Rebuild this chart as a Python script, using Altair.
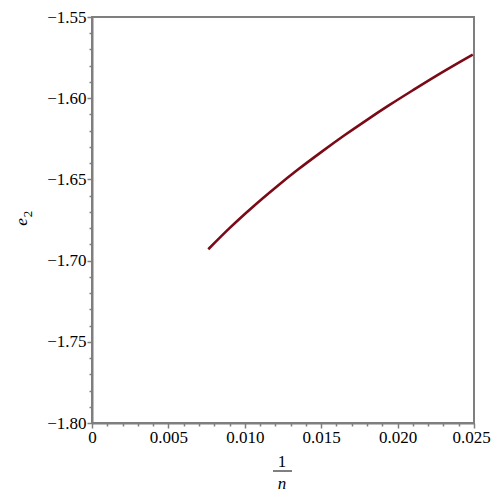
import altair as alt
import pandas as pd

# curve
inv_n = [0.00761, 0.0090, 0.0105, 0.0120, 0.0135, 0.0150, 0.0165, 0.0180, 0.0195, 0.0210, 0.0225, 0.0240, 0.02492]
e2 = [-1.6930, -1.6800, -1.6671, -1.6551, -1.6438, -1.6332, -1.6230, -1.6133, -1.6040, -1.5951, -1.5864, -1.5781, -1.5731]

x_ticks = [round(i * 0.001, 3) for i in range(0, 26)]
y_ticks = [round(-1.80 + i * 0.01, 2) for i in range(0, 26)]

df = pd.DataFrame({"x": inv_n, "y": e2})

FONT = "Liberation Serif"
GRAY = "#7f7f7f"

major_x = "abs(datum.value*200 - round(datum.value*200)) < 1e-6"
major_y = "abs(datum.value*20 - round(datum.value*20)) < 1e-6"

line = alt.Chart(df).mark_line(color="#7A0A16", strokeWidth=2.6, interpolate="monotone").encode(
    x=alt.X("x:Q", scale=alt.Scale(domain=[0, 0.025], nice=False, zero=False),
            axis=alt.Axis(values=x_ticks, title=None, grid=False, domainColor=GRAY, domainWidth=2,
                          tickColor=GRAY, tickWidth=1.5,
                          tickSize={"condition": {"test": major_x, "value": 5}, "value": 3},
                          labelExpr=f"({major_x}) ? (datum.value == 0 ? '0' : format(datum.value, '.3f')) : ''",
                          labelOffset={"condition": {"test": "datum.value > 0.0245", "value": -3}, "value": 0},
                          labelOverlap=False, labelFlush=False, labelFont=FONT, labelFontSize=17,
                          labelColor="black", labelPadding=1)),
    y=alt.Y("y:Q", scale=alt.Scale(domain=[-1.80, -1.55], nice=False, zero=False),
            axis=alt.Axis(values=y_ticks, title=None, grid=False, domainColor=GRAY, domainWidth=2,
                          tickColor=GRAY, tickWidth=1.5,
                          tickSize={"condition": {"test": major_y, "value": 5}, "value": 3},
                          labelExpr=f"({major_y}) ? format(datum.value, '.2f') : ''",
                          labelOverlap=False, labelFlush=False, labelFont=FONT, labelFontSize=17,
                          labelColor="black", labelPadding=1)),
)

one = pd.DataFrame({"t": ["1"]})
frac_num = alt.Chart(one).mark_text(text="1", font=FONT, fontSize=17, color="black").encode(
    x=alt.value(190), y=alt.value(445))
frac_bar = alt.Chart(one).mark_rule(color="black", strokeWidth=1).encode(
    x=alt.value(181), x2=alt.value(200), y=alt.value(454))
frac_den = alt.Chart(one).mark_text(text="n", font=FONT, fontSize=17, fontStyle="italic", color="black").encode(
    x=alt.value(190), y=alt.value(467))
y_e = alt.Chart(one).mark_text(text="e", font=FONT, fontSize=17, fontStyle="italic", color="black", angle=270).encode(
    x=alt.value(-70), y=alt.value(205))
y_2 = alt.Chart(one).mark_text(text="2", font=FONT, fontSize=13, color="black", angle=270).encode(
    x=alt.value(-64), y=alt.value(197))

chart = alt.layer(line, frac_num, frac_bar, frac_den, y_e, y_2).properties(
    width=382, height=406,
    autosize=alt.AutoSizeParams(type="none"),
    padding={"left": 84, "top": 9, "right": 18, "bottom": 74},
).configure_view(stroke=GRAY, strokeWidth=2)

chart.save("out.html", embed_options={"renderer": "svg", "actions": False})
